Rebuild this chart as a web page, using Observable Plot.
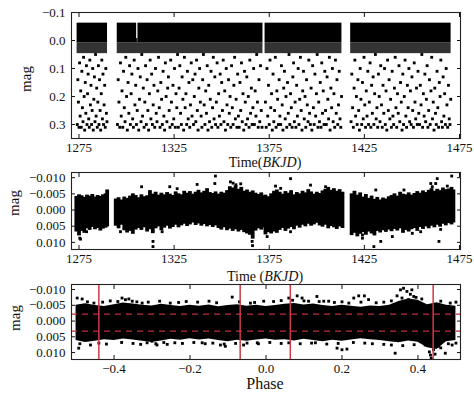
<!DOCTYPE html>
<html><head><meta charset="utf-8">
<script src="https://cdn.jsdelivr.net/npm/d3@7"></script>
<script src="https://cdn.jsdelivr.net/npm/@observablehq/plot@0.6"></script>
<style>
html,body{margin:0;padding:0;background:#fff;}
#wrap{position:relative;width:474px;height:395px;overflow:hidden;font-family:"Liberation Serif",serif;color:#111;}
.lab{position:absolute;white-space:nowrap;transform:translate(-50%,-50%);font-size:14px;line-height:1;}
.ylab{position:absolute;white-space:nowrap;transform:translate(-50%,-50%) rotate(-90deg);font-size:15px;line-height:1;}
</style></head><body><div id="wrap"></div>
<script>
// ---------- tick values ----------
const timeTicks = [1275, 1325, 1375, 1425, 1475];
const topMagTicks = [-0.1, 0.0, 0.1, 0.2, 0.3];
const midMagTicks = [-0.010, -0.005, 0.000, 0.005, 0.010];
const phaseTicks = [-0.4, -0.2, 0.0, 0.2, 0.4];
const phaseMagTicks = [-0.010, -0.005, 0.000, 0.005, 0.010];

// ---------- panel 1: raw light curve ----------
const topSegments = [[1274.0,1290.0],[1295.1,1305.3],[1306.0,1371.7],[1372.8,1413.2],[1417.8,1470.6]];
const topNotch = [[1305.3,1306.0]];
const topSpeckleSegments = [[1274.0,1290.0],[1295.1,1371.7],[1372.8,1413.2],[1417.8,1470.6]];
const topBandTop = -0.062, topBandBottom = 0.008, topNotchTop = -0.007, topSpeckleBottom = 0.047;
const topDotsA = [[1274.1,.30],[1274.4,.14],[1274.7,.22],[1275.0,.31],[1275.3,.08],[1275.6,.27],[1275.9,.18],[1276.2,.31],[1276.5,.11],[1276.8,.24],[1277.1,.29],[1277.4,.06],[1277.7,.20],[1278.0,.32],[1278.3,.15],[1278.6,.26],[1278.9,.09],[1279.2,.30],[1279.5,.19],[1279.8,.12],[1280.1,.28],[1280.4,.31],[1280.7,.07],[1281.0,.23],[1281.3,.16],[1281.6,.30],[1281.9,.25],[1282.2,.10],[1282.5,.32],[1282.8,.21],[1283.1,.13],[1283.4,.29],[1283.7,.05],[1284.0,.27],[1284.3,.17],[1284.6,.31],[1284.9,.22],[1285.2,.09],[1285.5,.30],[1285.8,.14],[1286.1,.25],[1286.4,.32],[1286.7,.19],[1287.0,.07],[1287.3,.28],[1287.6,.12],[1287.9,.30],[1288.2,.23],[1288.5,.16],[1288.8,.31],[1289.1,.10],[1289.4,.26],[1289.7,.29]];
const topDotsB = [
[1295.2,.30],[1295.6,.14],[1296.0,.22],[1296.4,.31],[1296.8,.08],[1297.2,.27],[1297.6,.18],[1298.0,.31],[1298.4,.11],[1298.8,.24],
[1299.2,.29],[1299.6,.06],[1300.0,.20],[1300.4,.32],[1300.8,.15],[1301.2,.26],[1301.6,.09],[1302.0,.30],[1302.4,.19],[1302.8,.12],
[1303.2,.28],[1303.6,.31],[1304.0,.07],[1304.4,.23],[1304.8,.16],[1305.2,.30],[1305.6,.25],[1306.0,.10],[1306.4,.32],[1306.8,.21],
[1307.2,.13],[1307.6,.29],[1308.0,.05],[1308.4,.27],[1308.8,.17],[1309.2,.31],[1309.6,.22],[1310.0,.09],[1310.4,.30],[1310.8,.14],
[1311.2,.25],[1311.6,.32],[1312.0,.19],[1312.4,.07],[1312.8,.28],[1313.2,.12],[1313.6,.30],[1314.0,.23],[1314.4,.16],[1314.8,.31],
[1315.2,.10],[1315.6,.26],[1316.0,.29],[1316.4,.18],[1316.8,.06],[1317.2,.24],[1317.6,.31],[1318.0,.15],[1318.4,.21],[1318.8,.30],
[1319.2,.11],[1319.6,.27],[1320.0,.32],[1320.4,.08],[1320.8,.20],[1321.2,.29],[1321.6,.17],[1322.0,.13],[1322.4,.25],[1322.8,.31],
[1323.2,.07],[1323.6,.22],[1324.0,.30],[1324.4,.16],[1324.8,.28],[1325.2,.10],[1325.6,.31],[1326.0,.19],[1326.4,.24],[1326.8,.05],
[1327.2,.31],[1327.6,.17],[1328.0,.09],[1328.4,.26],[1328.8,.30],[1329.2,.13],[1329.6,.21],[1330.0,.32],[1330.4,.06],[1330.8,.24],
[1331.2,.19],[1331.6,.30],[1332.0,.11],[1332.4,.28],[1332.8,.15],[1333.2,.31],[1333.6,.23],[1334.0,.08],[1334.4,.27],[1334.8,.14],
[1335.2,.30],[1335.6,.20],[1336.0,.12],[1336.4,.29],[1336.8,.07],[1337.2,.25],[1337.6,.32],[1338.0,.17],[1338.4,.10],[1338.8,.22],
[1339.2,.27],[1339.6,.31],[1340.0,.14],[1340.4,.05],[1340.8,.23],[1341.2,.30],[1341.6,.18],[1342.0,.26],[1342.4,.09],[1342.8,.32],
[1343.2,.16],[1343.6,.29],[1344.0,.21],[1344.4,.11],[1344.8,.31],[1345.2,.24],[1345.6,.06],[1346.0,.28],[1346.4,.13],[1346.8,.30],
[1347.2,.22],[1347.6,.08],[1348.0,.31],[1348.4,.19],[1348.8,.27],[1349.2,.12],[1349.6,.30],[1350.0,.15],[1350.4,.25],[1350.8,.07],
[1351.2,.29],[1351.6,.18],[1352.0,.32],[1352.4,.10],[1352.8,.23],[1353.2,.30],[1353.6,.14],[1354.0,.26],[1354.4,.20],[1354.8,.31],
[1355.2,.09],[1355.6,.24],[1356.0,.30],[1356.4,.16],[1356.8,.06],[1357.2,.28],[1357.6,.21],[1358.0,.31],[1358.4,.12],[1358.8,.27],
[1359.2,.31],[1359.6,.15],[1360.0,.25],[1360.4,.08],[1360.8,.29],[1361.2,.19],[1361.6,.32],[1362.0,.11],[1362.4,.22],[1362.8,.30],
[1363.2,.13],[1363.6,.28],[1364.0,.20],[1364.4,.31],[1364.8,.07],[1365.2,.26],[1365.6,.17],[1366.0,.30],[1366.4,.24],[1366.8,.10],
[1367.2,.30],[1367.6,.18],[1368.0,.27],[1368.4,.05],[1368.8,.22],[1369.2,.31],[1369.6,.14],[1370.0,.29],[1370.4,.09],[1370.8,.25],[1371.2,.31]];
const topDotsC = [
[1373.0,.22],[1373.4,.31],[1373.8,.10],[1374.2,.27],[1374.6,.16],[1375.0,.30],[1375.4,.07],[1375.8,.24],[1376.2,.19],[1376.6,.32],
[1377.0,.12],[1377.4,.29],[1377.8,.25],[1378.2,.06],[1378.6,.31],[1379.0,.18],[1379.4,.21],[1379.8,.30],[1380.2,.14],[1380.6,.27],
[1381.0,.30],[1381.4,.09],[1381.8,.23],[1382.2,.32],[1382.6,.17],[1383.0,.11],[1383.4,.28],[1383.8,.20],[1384.2,.31],[1384.6,.15],
[1385.0,.26],[1385.4,.05],[1385.8,.30],[1386.2,.19],[1386.6,.24],[1387.0,.31],[1387.4,.13],[1387.8,.08],[1388.2,.29],[1388.6,.22],
[1389.0,.31],[1389.4,.16],[1389.8,.27],[1390.2,.10],[1390.6,.30],[1391.0,.21],[1391.4,.06],[1391.8,.25],[1392.2,.32],[1392.6,.18],
[1393.0,.11],[1393.4,.28],[1393.8,.20],[1394.2,.31],[1394.6,.14],[1395.0,.23],[1395.4,.29],[1395.8,.07],[1396.2,.26],[1396.6,.30],
[1397.0,.17],[1397.4,.32],[1397.8,.09],[1398.2,.24],[1398.6,.30],[1399.0,.12],[1399.4,.27],[1399.8,.19],[1400.2,.05],[1400.6,.31],
[1401.0,.22],[1401.4,.29],[1401.8,.15],[1402.2,.31],[1402.6,.08],[1403.0,.26],[1403.4,.18],[1403.8,.30],[1404.2,.11],[1404.6,.25],
[1405.0,.30],[1405.4,.13],[1405.8,.21],[1406.2,.28],[1406.6,.06],[1407.0,.32],[1407.4,.17],[1407.8,.24],[1408.2,.10],[1408.6,.29],
[1409.0,.19],[1409.4,.31],[1409.8,.07],[1410.2,.26],[1410.6,.14],[1411.0,.30],[1411.4,.23],[1411.8,.11],[1412.2,.28],[1412.6,.31],[1413.0,.20]];
const topDotsD = [
[1418.0,.29],[1418.4,.12],[1418.8,.24],[1419.2,.31],[1419.6,.17],[1420.0,.07],[1420.4,.27],[1420.8,.20],[1421.2,.30],[1421.6,.14],
[1422.0,.25],[1422.4,.32],[1422.8,.10],[1423.2,.21],[1423.6,.30],[1424.0,.15],[1424.4,.28],[1424.8,.06],[1425.2,.23],[1425.6,.31],
[1426.0,.18],[1426.4,.27],[1426.8,.11],[1427.2,.30],[1427.6,.22],[1428.0,.08],[1428.4,.31],[1428.8,.16],[1429.2,.26],[1429.6,.13],
[1430.0,.30],[1430.4,.19],[1430.8,.05],[1431.2,.28],[1431.6,.24],[1432.0,.31],[1432.4,.12],[1432.8,.20],[1433.2,.29],[1433.6,.09],
[1434.0,.23],[1434.4,.31],[1434.8,.16],[1435.2,.26],[1435.6,.10],[1436.0,.30],[1436.4,.18],[1436.8,.32],[1437.2,.07],[1437.6,.25],
[1438.0,.14],[1438.4,.28],[1438.8,.21],[1439.2,.31],[1439.6,.11],[1440.0,.27],[1440.4,.30],[1440.8,.17],[1441.2,.06],[1441.6,.24],
[1442.0,.31],[1442.4,.19],[1442.8,.26],[1443.2,.09],[1443.6,.29],[1444.0,.15],[1444.4,.22],[1444.8,.32],[1445.2,.12],[1445.6,.30],
[1446.0,.20],[1446.4,.07],[1446.8,.27],[1447.2,.31],[1447.6,.16],[1448.0,.24],[1448.4,.10],[1448.8,.29],[1449.2,.18],[1449.6,.30],
[1450.0,.13],[1450.4,.25],[1450.8,.31],[1451.2,.08],[1451.6,.22],[1452.0,.28],[1452.4,.17],[1452.8,.30],[1453.2,.11],[1453.6,.26],
[1454.0,.30],[1454.4,.16],[1454.8,.23],[1455.2,.05],[1455.6,.31],[1456.0,.19],[1456.4,.27],[1456.8,.12],[1457.2,.29],[1457.6,.21],
[1458.0,.09],[1458.4,.31],[1458.8,.25],[1459.2,.14],[1459.6,.30],[1460.0,.18],[1460.4,.06],[1460.8,.28],[1461.2,.22],[1461.6,.32],
[1462.0,.17],[1462.4,.26],[1462.8,.30],[1463.2,.11],[1463.6,.24],[1464.0,.31],[1464.4,.15],[1464.8,.20],[1465.2,.07],[1465.6,.29],
[1466.0,.31],[1466.4,.13],[1466.8,.27],[1467.2,.19],[1467.6,.30],[1468.0,.10],[1468.4,.23],[1468.8,.31],[1469.2,.16],[1469.6,.28],
[1470.0,.30],[1470.4,.21]];

// ---------- panel 2: detrended light curve (time, upper edge, lower edge) ----------
const midBandA = [[1273.6,-0.0042,0.0068],[1275.0,-0.0047,0.0080],[1276.4,-0.0044,0.0066],[1277.8,-0.0039,0.0072],[1279.2,-0.0046,0.0058],[1280.6,-0.0043,0.0063],[1282.0,-0.0048,0.0054],[1283.4,-0.0040,0.0061],[1284.8,-0.0045,0.0057],[1286.2,-0.0042,0.0065],[1287.6,-0.0047,0.0059],[1289.0,-0.0050,0.0056],[1289.8,-0.0062,0.0052]];
const midBandB = [[1294.3,-0.0034,0.0050],[1295.8,-0.0038,0.0058],[1297.3,-0.0031,0.0047],[1298.8,-0.0040,0.0064],[1300.3,-0.0036,0.0071],[1301.8,-0.0043,0.0066],[1303.3,-0.0050,0.0075],[1304.8,-0.0045,0.0062],[1306.3,-0.0038,0.0057],[1307.8,-0.0047,0.0063],[1309.3,-0.0041,0.0055],[1310.8,-0.0044,0.0068],[1312.3,-0.0060,0.0061],[1313.8,-0.0049,0.0073],[1315.3,-0.0055,0.0058],[1316.8,-0.0046,0.0052],[1318.3,-0.0052,0.0064],[1319.8,-0.0047,0.0056],[1321.3,-0.0054,0.0050],[1322.8,-0.0049,0.0059],[1324.3,-0.0045,0.0054],[1325.8,-0.0056,0.0047],[1327.3,-0.0050,0.0055],[1328.8,-0.0047,0.0049],[1330.3,-0.0058,0.0044],[1331.8,-0.0052,0.0051],[1333.3,-0.0057,0.0046],[1334.8,-0.0049,0.0040],[1336.3,-0.0055,0.0048],[1337.8,-0.0061,0.0043],[1339.3,-0.0053,0.0050],[1340.8,-0.0058,0.0045],[1342.3,-0.0066,0.0052],[1343.8,-0.0054,0.0048],[1345.3,-0.0051,0.0054],[1346.8,-0.0056,0.0049],[1348.3,-0.0049,0.0057],[1349.8,-0.0055,0.0062],[1351.3,-0.0052,0.0055],[1352.8,-0.0060,0.0064],[1354.3,-0.0072,0.0059],[1355.8,-0.0068,0.0066],[1357.3,-0.0075,0.0061],[1358.8,-0.0064,0.0068],[1360.3,-0.0070,0.0063],[1361.8,-0.0058,0.0070],[1363.3,-0.0062,0.0074],[1364.8,-0.0055,0.0078],[1366.3,-0.0059,0.0090],[1367.8,-0.0052,0.0065],[1369.3,-0.0048,0.0058],[1370.8,-0.0053,0.0062],[1371.5,-0.0044,0.0055]];
const midBandC = [[1373.0,-0.0046,0.0077],[1374.5,-0.0041,0.0070],[1376.0,-0.0050,0.0074],[1377.5,-0.0058,0.0068],[1379.0,-0.0062,0.0072],[1380.5,-0.0055,0.0063],[1382.0,-0.0049,0.0057],[1383.5,-0.0057,0.0066],[1385.0,-0.0052,0.0059],[1386.5,-0.0060,0.0054],[1388.0,-0.0047,0.0061],[1389.5,-0.0054,0.0050],[1391.0,-0.0050,0.0056],[1392.5,-0.0058,0.0047],[1394.0,-0.0053,0.0052],[1395.5,-0.0063,0.0044],[1397.0,-0.0056,0.0050],[1398.5,-0.0049,0.0046],[1400.0,-0.0055,0.0041],[1401.5,-0.0051,0.0049],[1403.0,-0.0059,0.0053],[1404.5,-0.0064,0.0047],[1406.0,-0.0070,0.0058],[1407.5,-0.0061,0.0051],[1409.0,-0.0066,0.0055],[1410.5,-0.0058,0.0060],[1412.0,-0.0063,0.0052],[1413.5,-0.0055,0.0057]];
const midBandD = [[1418.3,-0.0050,0.0079],[1419.8,-0.0058,0.0072],[1421.3,-0.0046,0.0083],[1422.8,-0.0053,0.0075],[1424.3,-0.0040,0.0070],[1425.8,-0.0048,0.0078],[1427.3,-0.0036,0.0068],[1428.8,-0.0043,0.0074],[1430.3,-0.0033,0.0080],[1431.8,-0.0039,0.0066],[1433.3,-0.0031,0.0071],[1434.8,-0.0037,0.0064],[1436.3,-0.0034,0.0069],[1437.8,-0.0041,0.0062],[1439.3,-0.0045,0.0067],[1440.8,-0.0050,0.0060],[1442.3,-0.0043,0.0065],[1443.8,-0.0055,0.0058],[1445.3,-0.0049,0.0072],[1446.8,-0.0047,0.0063],[1448.3,-0.0053,0.0068],[1449.8,-0.0046,0.0061],[1451.3,-0.0051,0.0057],[1452.8,-0.0057,0.0066],[1454.3,-0.0052,0.0054],[1455.8,-0.0059,0.0060],[1457.3,-0.0054,0.0052],[1458.8,-0.0061,0.0058],[1460.3,-0.0066,0.0050],[1461.8,-0.0058,0.0055],[1463.3,-0.0064,0.0047],[1464.8,-0.0060,0.0053],[1466.3,-0.0068,0.0044],[1467.8,-0.0063,0.0049],[1469.3,-0.0065,0.0042],[1470.8,-0.0070,0.0046],[1471.8,-0.0062,0.0040]];
const midOutliers = [[1275.4,0.0087],[1275.8,0.0090],[1279.0,0.0067],[1296.8,0.0067],[1307.9,-0.0072],[1313.9,0.0097],[1313.9,0.0113],[1318.7,0.0067],[1322.7,-0.0072],[1326.6,-0.0066],[1337.1,-0.0079],[1346.4,-0.0082],[1346.7,-0.0105],[1354.6,-0.0087],[1356.0,-0.0083],[1357.5,-0.0078],[1360.0,-0.0081],[1366.0,0.0097],[1366.2,0.0110],[1378.3,-0.0074],[1381.0,-0.0067],[1386.2,-0.0097],[1396.7,-0.0077],[1404.6,-0.0072],[1373.9,0.0082],[1386.2,0.0067],[1431.0,-0.0062],[1424.0,0.0077],[1424.0,0.0087],[1430.0,0.0113],[1433.6,0.0097],[1439.7,0.0082],[1445.8,-0.0062],[1450.2,0.0072],[1454.6,0.0067],[1459.9,-0.0082],[1460.7,-0.0072],[1462.5,-0.0082],[1463.3,-0.0097],[1468.6,-0.0074],[1464.2,0.0097],[1470.9,-0.0105],[1465.1,0.0060]];

// ---------- panel 3: phase-folded (phase, upper edge, lower edge) ----------
const phaseBand = [[-0.500,-0.0050,0.0062],[-0.475,-0.0055,0.0068],[-0.450,-0.0049,0.0064],[-0.425,-0.0046,0.0059],[-0.400,-0.0052,0.0062],[-0.375,-0.0057,0.0057],[-0.350,-0.0054,0.0060],[-0.325,-0.0050,0.0064],[-0.300,-0.0048,0.0068],[-0.275,-0.0053,0.0063],[-0.250,-0.0049,0.0058],[-0.225,-0.0046,0.0061],[-0.200,-0.0050,0.0056],[-0.175,-0.0047,0.0060],[-0.150,-0.0051,0.0057],[-0.125,-0.0045,0.0062],[-0.100,-0.0049,0.0066],[-0.075,-0.0052,0.0061],[-0.050,-0.0047,0.0064],[-0.025,-0.0050,0.0060],[0.000,-0.0046,0.0057],[0.025,-0.0049,0.0061],[0.050,-0.0053,0.0059],[0.075,-0.0056,0.0063],[0.100,-0.0051,0.0058],[0.125,-0.0054,0.0062],[0.150,-0.0049,0.0066],[0.175,-0.0046,0.0061],[0.200,-0.0050,0.0064],[0.225,-0.0047,0.0060],[0.250,-0.0044,0.0056],[0.275,-0.0048,0.0059],[0.300,-0.0046,0.0062],[0.325,-0.0050,0.0066],[0.350,-0.0062,0.0069],[0.375,-0.0070,0.0063],[0.400,-0.0066,0.0067],[0.425,-0.0052,0.0085],[0.450,-0.0058,0.0090],[0.475,-0.0050,0.0066],[0.500,-0.0047,0.0062]];
const phaseOutliers = [[-0.497,-0.0073],[-0.484,-0.0070],[-0.493,0.0086],[-0.462,0.0076],[-0.453,-0.0057],[-0.379,-0.0073],[-0.370,-0.0068],[-0.361,-0.0070],[-0.352,-0.0063],[-0.326,-0.0057],[-0.313,0.0069],[-0.300,0.0064],[-0.287,0.0076],[-0.269,0.0068],[-0.252,-0.0057],[-0.168,0.0069],[-0.120,0.0076],[-0.089,-0.0076],[-0.107,0.0080],[-0.059,0.0076],[-0.041,-0.0057],[-0.023,0.0069],[-0.006,-0.0063],[0.060,-0.0073],[0.082,-0.0080],[0.095,-0.0073],[0.112,-0.0063],[0.134,-0.0078],[0.152,-0.0063],[0.165,-0.0063],[0.218,-0.0057],[0.231,-0.0073],[0.244,-0.0080],[0.259,-0.0080],[0.270,-0.0068],[0.187,0.0086],[0.200,0.0091],[0.213,0.0089],[0.130,0.0069],[0.340,0.0102],[0.354,-0.0099],[0.362,-0.0104],[0.371,-0.0094],[0.384,-0.0099],[0.358,-0.0073],[0.375,-0.0068],[0.389,-0.0078],[0.398,-0.0057],[0.419,0.0076],[0.433,0.0108],[0.435,0.0118],[0.441,0.0091],[0.454,0.0080],[0.472,0.0102],[0.485,-0.0057],[0.490,0.0076]];
const phaseFringe = [[-0.47,-0.0061],[-0.43,-0.0060],[-0.41,-0.0064],[-0.39,-0.0062],[-0.34,-0.0061],[-0.31,-0.0060],[-0.28,-0.0063],[-0.23,-0.0059],[-0.21,-0.0062],[-0.18,-0.0060],[-0.15,-0.0063],[-0.13,-0.0058],[-0.07,-0.0061],[-0.03,-0.0059],[0.02,-0.0062],[0.04,-0.0065],[0.07,-0.0066],[0.10,-0.0064],[0.14,-0.0062],[0.18,-0.0059],[0.20,-0.0061],[0.25,-0.0060],[0.29,-0.0058],[0.31,-0.0060],[0.33,-0.0064],[0.345,-0.0080],[0.38,-0.0085],[0.395,-0.0075],[0.41,-0.0070],[0.46,-0.0063],[0.50,-0.0060],
[-0.49,0.0072],[-0.44,0.0070],[-0.42,0.0073],[-0.38,0.0068],[-0.35,0.0071],[-0.33,0.0074],[-0.29,0.0072],[-0.26,0.0074],[-0.24,0.0069],[-0.22,0.0071],[-0.19,0.0068],[-0.16,0.0072],[-0.14,0.0070],[-0.11,0.0073],[-0.08,0.0071],[-0.05,0.0070],[-0.02,0.0072],[0.01,0.0068],[0.04,0.0071],[0.06,0.0069],[0.09,0.0072],[0.12,0.0070],[0.16,0.0073],[0.19,0.0071],[0.23,0.0068],[0.26,0.0070],[0.28,0.0072],[0.31,0.0074],[0.33,0.0076],[0.36,0.0078],[0.39,0.0075],[0.43,0.0098],[0.445,0.0105],[0.46,0.0085],[0.48,0.0072],[0.50,0.0070]];
const eclipsePhases = [-0.44, -0.068, 0.064, 0.44];
const phaseLevels = [-0.0022, 0.0032];

// ---------- drawing ----------
const wrap = document.getElementById("wrap");
const style = {fontFamily: "Liberation Serif, serif", fontSize: "13px", background: "transparent", color: "#111", overflow: "visible"};
const blank = () => "";
function frameAxes(xt, yt, xf, yf, xPad) {
  return [
    Plot.axisX({ticks: xt, anchor: "bottom", tickSize: -4, tickPadding: xPad, tickFormat: xf, label: null}),
    Plot.axisX({ticks: xt, anchor: "top", tickSize: -4, tickFormat: blank, label: null}),
    Plot.axisY({ticks: yt, anchor: "left", tickSize: -4, tickPadding: 10, tickFormat: yf, label: null}),
    Plot.axisY({ticks: yt, anchor: "right", tickSize: -4, tickFormat: blank, label: null}),
    Plot.frame({stroke: "#222", strokeWidth: 1.1})
  ];
}
function place(svg, top) {
  svg.style.position = "absolute"; svg.style.left = "0px"; svg.style.top = top + "px";
  wrap.appendChild(svg);
}
const sq = {symbol: "square", r: 1.6, fill: "black", clip: true};
const topDots = [...topDotsA, ...topDotsB, ...topDotsC, ...topDotsD];

place(Plot.plot({
  width: 474, height: 168, marginTop: 12, marginBottom: 30, marginLeft: 71, marginRight: 14,
  style,
  x: {domain: [1271.06, 1475.53]},
  y: {domain: [-0.1, 0.35], reverse: true},
  marks: [
    Plot.rect(topSpeckleSegments, {x1: d => d[0], x2: d => d[1], y1: d => topBandBottom, y2: d => topSpeckleBottom, fill: "black", fillOpacity: 0.8}),
    Plot.rect(topSegments, {x1: d => d[0], x2: d => d[1], y1: d => topBandTop, y2: d => topBandBottom, fill: "black"}),
    Plot.rect(topNotch, {x1: d => d[0], x2: d => d[1], y1: d => topNotchTop, y2: d => topBandBottom, fill: "black"}),
    Plot.dot(topDots, {x: d => d[0], y: d => d[1], ...sq}),
    ...frameAxes(timeTicks, topMagTicks, d3.format("d"), d3.format(".1f"), 8)
  ]
}), 0);

const midBand = [...midBandA, ...midBandB, ...midBandC, ...midBandD];
place(Plot.plot({
  width: 474, height: 119, marginTop: 12, marginBottom: 30, marginLeft: 71, marginRight: 14,
  style,
  x: {domain: [1271.06, 1475.53]},
  y: {domain: [-0.0116, 0.0122], reverse: true},
  marks: [
    Plot.ruleX(midBand, {x: d => d[0], y1: d => d[1], y2: d => d[2], stroke: "black", strokeWidth: 3.8, clip: true}),
    Plot.dot(midOutliers, {x: d => d[0], y: d => d[1], ...sq}),
    ...frameAxes(timeTicks, midMagTicks, d3.format("d"), d3.format(".3f"), 8)
  ]
}), 160);

place(Plot.plot({
  width: 474, height: 117, marginTop: 12, marginBottom: 30, marginLeft: 71, marginRight: 14,
  style,
  x: {domain: [-0.512, 0.512]},
  y: {domain: [-0.0116, 0.0122], reverse: true},
  marks: [
    Plot.areaY(phaseBand, {x: d => d[0], y1: d => d[1], y2: d => d[2], fill: "black", clip: true}),
    Plot.dot(phaseFringe, {x: d => d[0], y: d => d[1], ...sq}),
    Plot.dot(phaseOutliers, {x: d => d[0], y: d => d[1], ...sq}),
    Plot.ruleY(phaseLevels, {stroke: "#b8303c", strokeWidth: 1.3, strokeDasharray: "6,5"}),
    Plot.ruleX(eclipsePhases, {stroke: "#d03a48", strokeWidth: 1.5}),
    ...frameAxes(phaseTicks, phaseMagTicks, d3.format(".1f"), d3.format(".3f"), 8)
  ]
}), 272);

// ---------- axis titles ----------
function addLabel(html, cls, x, y, size) {
  const d = document.createElement("div");
  d.className = cls; d.innerHTML = html;
  d.style.left = x + "px"; d.style.top = y + "px";
  if (size) d.style.fontSize = size + "px";
  wrap.appendChild(d);
}
addLabel("mag", "ylab", 26, 79);
addLabel("mag", "ylab", 14, 203);
addLabel("mag", "ylab", 15, 318);
addLabel("Time(<i>BKJD</i>)", "lab", 265, 163);
addLabel("Time (<i>BKJD</i>)", "lab", 265, 277);
addLabel("Phase", "lab", 265, 384, 16);
</script>
</body></html>
